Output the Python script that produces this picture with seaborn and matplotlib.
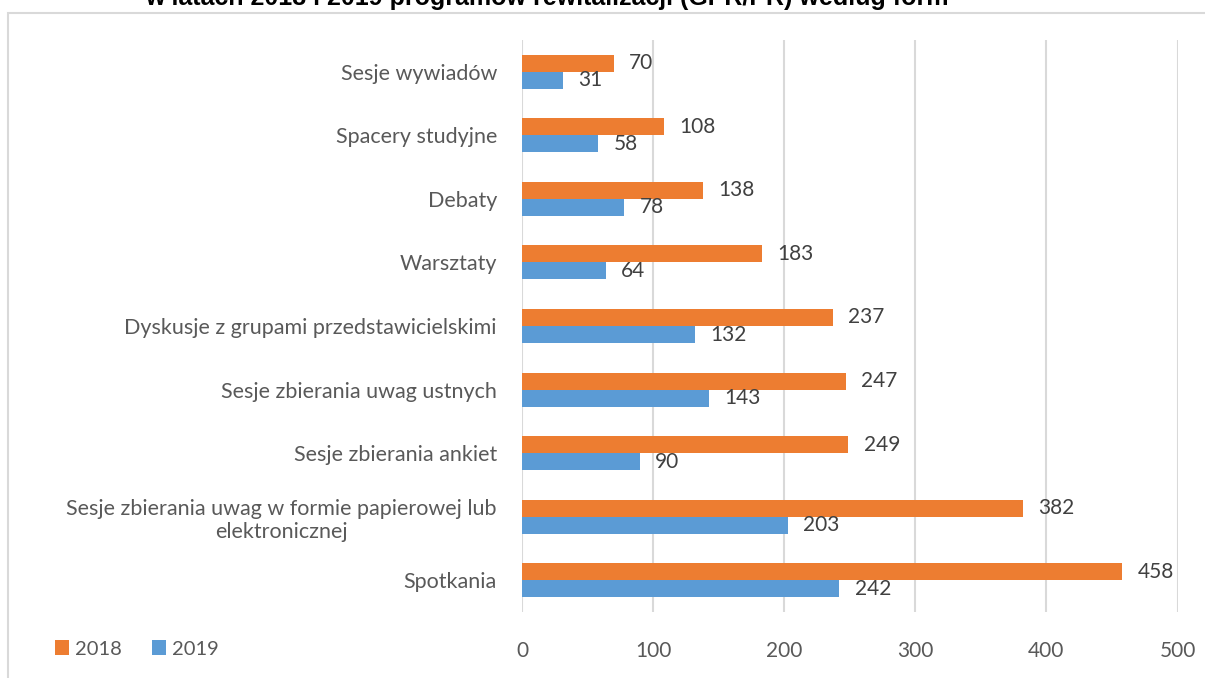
import matplotlib
matplotlib.use("Agg")
import matplotlib.pyplot as plt
import seaborn as sns
import pandas as pd
from matplotlib.patches import Rectangle, Patch

categories = [
    "Sesje wywiadów",
    "Spacery studyjne",
    "Debaty",
    "Warsztaty",
    "Dyskusje z grupami przedstawicielskimi",
    "Sesje zbierania uwag ustnych",
    "Sesje zbierania ankiet",
    "Sesje zbierania uwag w formie papierowej lub\nelektronicznej",
    "Spotkania",
]
values_2018 = [70, 108, 138, 183, 237, 247, 249, 382, 458]
values_2019 = [31, 58, 78, 64, 132, 143, 90, 203, 242]
years = ["2018", "2019"]
x_ticks = [0, 100, 200, 300, 400, 500]
title = "w latach 2018 i 2019 programów rewitalizacji (GPR/PR) według form"

df = pd.DataFrame({
    "kategoria": categories * 2,
    "wartość": values_2018 + values_2019,
    "rok": [years[0]] * len(categories) + [years[1]] * len(categories),
})

sns.set_theme(style="white")
plt.rcParams["font.family"] = ["Lato", "DejaVu Sans"]

W, H = 1205, 678
fig = plt.figure(figsize=(W / 100, H / 100), dpi=100)
ax = fig.add_axes([522 / W, 1 - 612 / H, (1177.5 - 522) / W, (612 - 40) / H])

colors = {"2018": "#ED7D31", "2019": "#5B9BD5"}
sns.barplot(data=df, y="kategoria", x="wartość", hue="rok", order=categories,
            hue_order=years, palette=colors, orient="h", width=0.535,
            ax=ax, legend=False, saturation=1, edgecolor="none")

ax.set_xlim(0, 500)
ax.set_xticks(x_ticks)
ax.set_xticklabels([str(t) for t in x_ticks])
ax.grid(axis="x", color="#D9D9D9", linewidth=1.5)
ax.set_axisbelow(True)
for s in ax.spines.values():
    s.set_visible(False)
ax.set_xlabel("")
ax.set_ylabel("")
ax.tick_params(axis="x", length=0, pad=21, labelsize=15, labelcolor="#595959")
ax.tick_params(axis="y", length=0, pad=18, labelsize=15.5, labelcolor="#595959")
ax.set_yticklabels(categories, ha="right", multialignment="center")

for cont in ax.containers:
    ax.bar_label(cont, labels=[f"{int(v)}" for v in cont.datavalues],
                 padding=11, fontsize=15, color="#404040")

# frame
fig.patches.append(Rectangle((8 / W, -0.01), (W + 10) / W, 1 - 13 / H + 0.01,
                             transform=fig.transFigure, fill=False,
                             edgecolor="#D9D9D9", linewidth=1.5))

fig.text(145 / W, 1 - 5 / H, title, fontsize=18, fontweight="bold",
         family=["Liberation Sans Narrow", "Liberation Sans", "DejaVu Sans"],
         va="baseline", ha="left", color="#000000")

handles = [Patch(facecolor=colors[y], edgecolor="none") for y in years]
fig.legend(handles, years, loc="center left", bbox_to_anchor=(37 / W, 1 - 649 / H),
           ncol=2, frameon=False, fontsize=14.5, handlelength=0.7, handleheight=0.7,
           handletextpad=0.3, columnspacing=1.5, labelcolor="#595959")

fig.savefig("out.png", dpi=100)
